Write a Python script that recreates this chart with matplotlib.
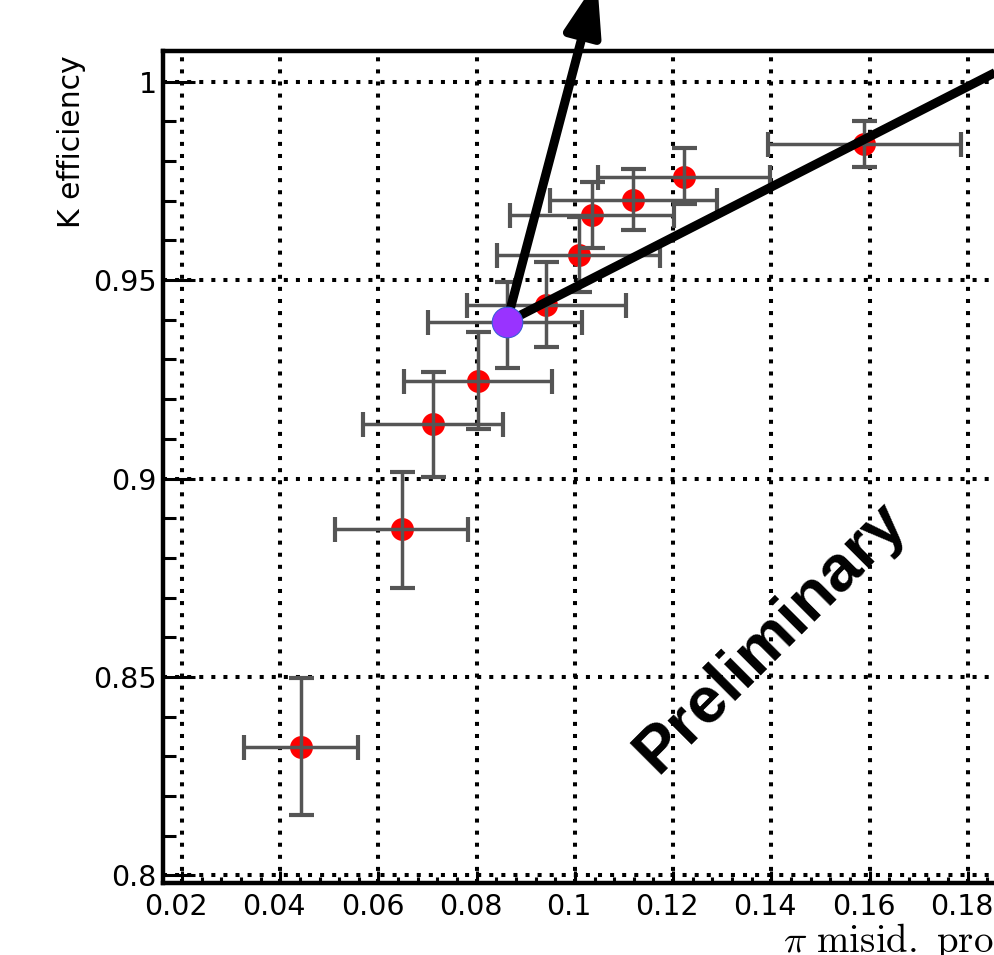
import numpy as np
import matplotlib
matplotlib.use("Agg")
import matplotlib.pyplot as plt
from matplotlib.patches import FancyArrowPatch
from matplotlib.ticker import MultipleLocator, FixedLocator, FixedFormatter
from matplotlib.transforms import ScaledTranslation

# ---- data ----
pi_misid = [0.0442, 0.06475, 0.07118, 0.08022, 0.08613, 0.09407, 0.10086, 0.10344, 0.11192, 0.1223, 0.1589]
k_eff    = [0.8324, 0.8872, 0.9137, 0.9246, 0.9394, 0.9437, 0.9563, 0.9664, 0.9702, 0.9761, 0.9842]
pi_lo    = [0.03263, 0.05116, 0.05693, 0.0652, 0.07016, 0.0781, 0.0842, 0.0868, 0.0950, 0.1048, 0.1394]
pi_hi    = [0.0559, 0.07819, 0.08545, 0.0954, 0.1015, 0.1104, 0.1174, 0.1202, 0.1290, 0.1398, 0.1786]
k_lo     = [0.8152, 0.8723, 0.9004, 0.9125, 0.9279, 0.9331, 0.9469, 0.9580, 0.9626, 0.9692, 0.9784]
k_hi     = [0.8496, 0.9017, 0.9268, 0.9370, 0.9496, 0.9545, 0.9660, 0.9748, 0.9780, 0.9832, 0.9902]

sel_pi = 0.08613
sel_k = 0.9394
arrow_tip = (0.10452, 1.0256)
line_end = (0.20697, 1.01585)

x_ticks = [0.02, 0.04, 0.06, 0.08, 0.10, 0.12, 0.14, 0.16, 0.18, 0.20]
x_tick_labels = ["0.02", "0.04", "0.06", "0.08", "0.1", "0.12", "0.14", "0.16", "0.18", "0.2"]
y_ticks = [0.80, 0.85, 0.90, 0.95, 1.00]
y_tick_labels = ["0.8", "0.85", "0.9", "0.95", "1"]

plt.rcParams["mathtext.fontset"] = "cm"

W, H = 994, 955
fig = plt.figure(figsize=(W / 100, H / 100), dpi=100)
ax = fig.add_axes([163 / W, 72 / H, 903 / W, 832 / H])
ax.set_xlim(0.01613, 0.20)
ax.set_ylim(0.79806, 1.00774)

ax.set_axisbelow(True)
ax.grid(True, which="major", color="black", linestyle=(0, (1.0, 2.0)), linewidth=2.9)

for sp in ax.spines.values():
    sp.set_linewidth(3.2)
    sp.set_color("black")

ax.xaxis.set_major_locator(FixedLocator(x_ticks))
ax.xaxis.set_major_formatter(FixedFormatter(x_tick_labels))
ax.yaxis.set_major_locator(FixedLocator(y_ticks))
ax.yaxis.set_major_formatter(FixedFormatter(y_tick_labels))
ax.xaxis.set_minor_locator(MultipleLocator(0.004))
ax.yaxis.set_minor_locator(MultipleLocator(0.01))

ax.tick_params(axis="both", which="both", direction="in", top=False, right=False,
               width=2.2, color="black", labelsize=20.5, labelcolor="black")
ax.tick_params(axis="y", which="major", length=23, pad=4.5)
ax.tick_params(axis="y", which="minor", length=9.5)
ax.tick_params(axis="x", which="major", length=9, pad=7)
ax.tick_params(axis="x", which="minor", length=4)

for lab in ax.get_xticklabels():
    lab.set_transform(lab.get_transform() + ScaledTranslation(-0.06, 0, fig.dpi_scale_trans))

# red points under the error bars
ax.plot(pi_misid, k_eff, "o", color="#ff0000", ms=16.5, mew=0, zorder=2)
x = np.array(pi_misid); y = np.array(k_eff)
ax.errorbar(x, y,
            xerr=[x - np.array(pi_lo), np.array(pi_hi) - x],
            yerr=[y - np.array(k_lo), np.array(k_hi) - y],
            fmt="none", ecolor="#555555", elinewidth=2.5, capsize=9, capthick=3, zorder=3)

# annotation lines from the selected point
arr = FancyArrowPatch((sel_pi, sel_k), arrow_tip,
                      arrowstyle="-|>,head_length=32,head_width=11", mutation_scale=1,
                      lw=6.5, color="black", shrinkA=0, shrinkB=0,
                      transform=ax.transData, clip_on=False, zorder=4)
ax.add_patch(arr)
ax.plot([sel_pi, line_end[0]], [sel_k, line_end[1]], color="black", lw=6.5,
        solid_capstyle="butt", clip_on=False, zorder=4)

ax.plot([sel_pi], [sel_k], "o", ms=22, mfc="#9933ff", mec="#3b5bdb", mew=0.8, zorder=6)

ax.text(0.1399, 0.8601, "Preliminary", rotation=45, rotation_mode="anchor",
        ha="center", va="center", fontsize=47, fontweight="bold",
        family="Liberation Sans", color="black", zorder=7)

fig.text(71 / W, (H - 55) / H, "K efficiency", rotation=90, ha="center", va="top",
         fontsize=21.5, color="black")
fig.text(783 / W, 3 / H, r"$\pi\ \mathrm{misid.\ probability}$", ha="left", va="baseline",
         fontsize=28, color="black")

fig.savefig("out.png", dpi=100)
